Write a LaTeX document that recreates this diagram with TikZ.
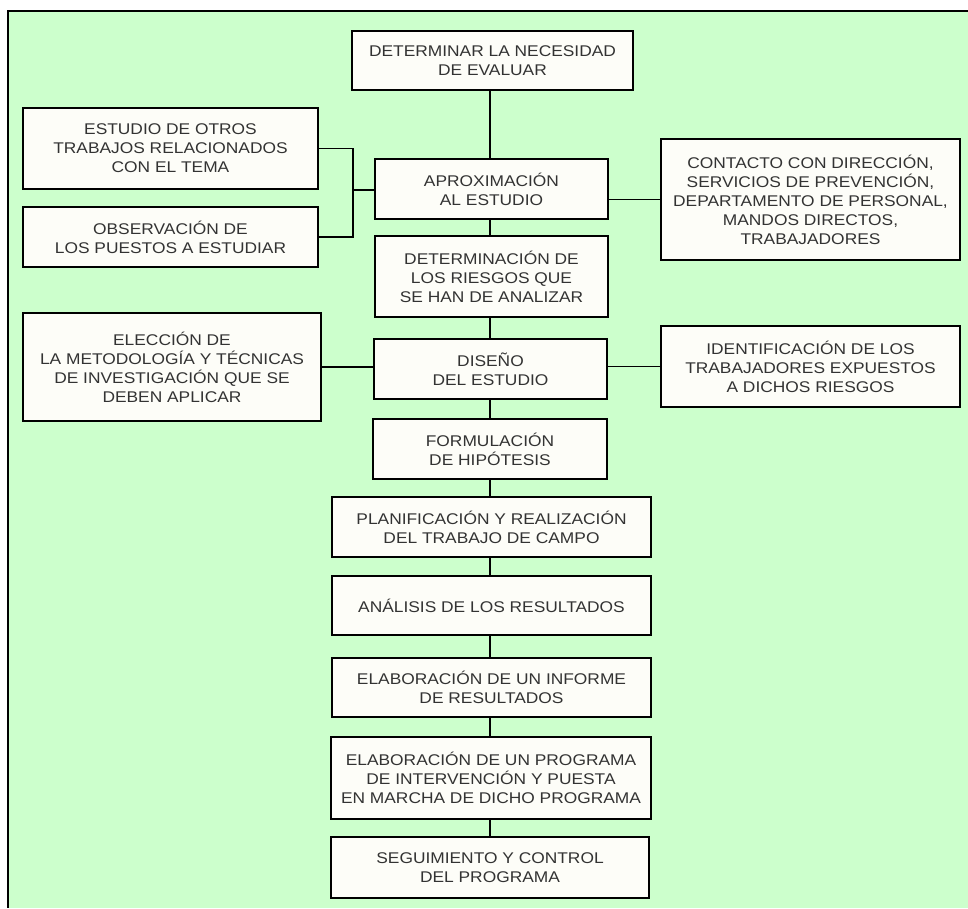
\documentclass[tikz,border=0pt]{standalone}
\usepackage{fontspec}
\setmainfont[FakeStretch=1.12]{Liberation Sans}
\definecolor{bggreen}{HTML}{CCFFCC}
\definecolor{boxfill}{HTML}{FDFDF8}
\definecolor{txt}{HTML}{333333}
\tikzset{
  box/.style={draw=black, line width=1.6pt, fill=boxfill, inner sep=0pt, align=center,
    text=txt, font=\fontsize{15.5}{19}\selectfont},
  link/.style={draw=black, line width=1.6pt}
}
\begin{document}
\begin{tikzpicture}[x=1pt,y=-1pt]
\useasboundingbox (0,0) rectangle (968,908);
\fill[white] (0,0) rectangle (968,908);
\fill[bggreen] (8,11) rectangle (968,908);
\draw[line width=2.5pt] (968,11) -- (8,11) -- (8,908);

\node[box, minimum width=281pt, minimum height=59pt] (d1) at (492.5,60.5) {DETERMINAR LA NECESIDAD\\DE EVALUAR};
\node[box, minimum width=295pt, minimum height=81pt] (e1) at (170.5,148.5) {ESTUDIO DE OTROS\\TRABAJOS RELACIONADOS\\CON EL TEMA};
\node[box, minimum width=295pt, minimum height=60pt] (o1) at (170.5,237) {OBSERVACIÓN DE\\LOS PUESTOS A ESTUDIAR};
\node[box, minimum width=233pt, minimum height=60pt] (a1) at (491.5,189) {APROXIMACIÓN\\AL ESTUDIO};
\node[box, minimum width=299pt, minimum height=121pt] (c1) at (810.5,199.5) {CONTACTO CON DIRECCIÓN,\\SERVICIOS DE PREVENCIÓN,\\DEPARTAMENTO DE PERSONAL,\\MANDOS DIRECTOS,\\TRABAJADORES};
\node[box, minimum width=233pt, minimum height=81pt] (r1) at (491.5,276.5) {DETERMINACIÓN DE\\LOS RIESGOS QUE\\SE HAN DE ANALIZAR};
\node[box, minimum width=233pt, minimum height=60pt] (s1) at (490.5,369) {DISEÑO\\DEL ESTUDIO};
\node[box, minimum width=298pt, minimum height=108pt] (m1) at (172,367) {ELECCIÓN DE\\LA METODOLOGÍA Y TÉCNICAS\\DE INVESTIGACIÓN QUE SE\\DEBEN APLICAR};
\node[box, minimum width=299pt, minimum height=81pt] (i1) at (810.5,366.5) {IDENTIFICACIÓN DE LOS\\TRABAJADORES EXPUESTOS\\A DICHOS RIESGOS};
\node[box, minimum width=234pt, minimum height=60pt] (f1) at (490,449) {FORMULACIÓN\\DE HIPÓTESIS};
\node[box, minimum width=319pt, minimum height=60pt] (p1) at (491.5,527) {PLANIFICACIÓN Y REALIZACIÓN\\DEL TRABAJO DE CAMPO};
\node[box, minimum width=319pt, minimum height=59pt] (an) at (491.5,605.5) {ANÁLISIS DE LOS RESULTADOS};
\node[box, minimum width=319pt, minimum height=59pt] (inf) at (491.5,687.5) {ELABORACIÓN DE UN INFORME\\DE RESULTADOS};
\node[box, minimum width=320pt, minimum height=82pt] (pr) at (491,778) {ELABORACIÓN DE UN PROGRAMA\\DE INTERVENCIÓN Y PUESTA\\EN MARCHA DE DICHO PROGRAMA};
\node[box, minimum width=318pt, minimum height=61pt] (sg) at (490,867.5) {SEGUIMIENTO Y CONTROL\\DEL PROGRAMA};

\coordinate (sp) at (490,0);
\coordinate (br) at (353,190);

\foreach \u/\v in {d1/a1, a1/r1, r1/s1, s1/f1, f1/p1, p1/an, an/inf, inf/pr, pr/sg}
  \draw[link] (\u.south -| sp) -- (\v.north -| sp);

\draw[link] (e1.east) -- (e1.east -| br) -- (o1.east -| br) -- (o1.east);
\draw[link] (br) -- (br -| a1.west);
\draw[link] (c1.west) -- (c1.west -| a1.east);
\draw[link] (m1.east) -- (m1.east -| s1.west);
\draw[link] (i1.west) -- (i1.west -| s1.east);
\end{tikzpicture}
\end{document}
